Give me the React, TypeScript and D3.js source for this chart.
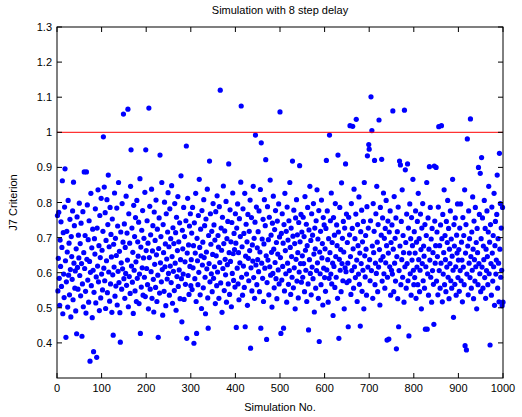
import React from "react";
import * as d3 from "d3";

const xTicks = [0, 100, 200, 300, 400, 500, 600, 700, 800, 900, 1000];
const yTicks = [0.4, 0.5, 0.6, 0.7, 0.8, 0.9, 1.0, 1.1, 1.2, 1.3];
const threshold = 1.0;

const block00 = [0.763,0.548,0.641,0.772,0.584,0.507,0.693,0.618,0.745,0.561,0.672,0.862,0.483,0.714,0.596,0.529,0.787,0.896,0.634,0.416,0.574,0.718,0.659,0.502,0.806,0.593,0.684,0.537,0.752,0.609,0.474,0.703,0.646,0.581,0.776,0.523,0.858,0.627,0.734,0.556,0.605,0.491,0.668,0.426,0.759,0.615,0.553,0.707,0.642,0.798];
const block01 = [0.592,0.683,0.534,0.741,0.626,0.419,0.568,0.774,0.503,0.657,0.887,0.612,0.706,0.547,0.485,0.887,0.638,0.793,0.579,0.694,0.516,0.748,0.632,0.348,0.601,0.826,0.563,0.671,0.472,0.724,0.607,0.375,0.544,0.697,0.653,0.782,0.514,0.588,0.359,0.727,0.619,0.836,0.574,0.677,0.492,0.763,0.643,0.528,0.812,0.596];
const block02 = [0.664,0.551,0.718,0.987,0.613,0.844,0.577,0.771,0.498,0.692,0.634,0.808,0.543,0.737,0.878,0.602,0.674,0.519,0.786,0.568,0.709,0.645,0.487,0.753,0.594,0.422,0.681,0.616,0.827,0.533,0.698,0.562,0.649,0.784,0.508,0.733,0.604,0.857,0.572,0.661,0.486,0.402,0.716,0.628,0.553,0.797,0.611,0.687,1.052,0.583];
const block03 = [0.739,0.527,0.672,0.598,0.818,0.564,0.713,0.636,1.066,0.503,0.768,0.589,0.684,0.541,0.846,0.950,0.619,0.727,0.573,0.658,0.484,0.792,0.607,0.703,0.548,0.757,0.631,0.518,0.806,0.584,0.688,0.647,0.744,0.512,0.596,0.868,0.427,0.673,0.559,0.721,0.614,0.777,0.536,0.642,0.698,0.587,0.829,0.532,0.950,0.663];
const block04 = [0.612,0.748,0.566,0.684,0.497,1.069,0.643,0.789,0.553,0.708,0.603,0.838,0.527,0.662,0.734,0.581,0.488,0.773,0.624,0.692,0.558,0.807,0.651,0.518,0.724,0.593,0.416,0.669,0.756,0.542,0.935,0.628,0.703,0.574,0.857,0.609,0.479,0.737,0.657,0.547,0.801,0.617,0.682,0.506,0.768,0.639,0.582,0.716,0.828,0.598];
const block05 = [0.674,0.536,0.782,0.619,0.697,0.572,0.848,0.646,0.513,0.728,0.604,0.683,0.549,0.797,0.627,0.714,0.493,0.758,0.589,0.663,0.817,0.561,0.688,0.608,0.742,0.526,0.637,0.876,0.583,0.460,0.721,0.668,0.596,0.786,0.524,0.703,0.631,0.567,0.748,0.961,0.413,0.656,0.812,0.592,0.679,0.538,0.733,0.618,0.768,0.563];
const block06 = [0.637,0.713,0.552,0.786,0.614,0.677,0.399,0.742,0.583,0.656,0.826,0.518,0.427,0.698,0.634,0.566,0.763,0.601,0.866,0.672,0.537,0.724,0.648,0.498,0.777,0.622,0.687,0.557,0.808,0.643,0.734,0.587,0.483,0.753,0.659,0.611,0.838,0.528,0.442,0.706,0.626,0.918,0.574,0.768,0.681,0.597,0.718,0.546,0.652,0.797];
const block07 = [0.584,0.736,0.617,0.693,0.512,0.774,0.648,0.563,0.819,0.602,0.706,0.673,0.527,0.788,0.629,1.120,0.571,0.727,0.664,0.487,0.758,0.612,0.847,0.683,0.549,0.719,0.638,0.594,0.803,0.516,0.697,0.623,0.746,0.568,0.910,0.657,0.538,0.779,0.632,0.688,0.503,0.743,0.598,0.827,0.654,0.578,0.712,0.666,0.559,0.768];
const block08 = [0.684,0.444,0.727,0.613,0.796,0.568,0.657,0.523,0.754,0.628,0.703,0.858,1.075,0.587,0.674,0.536,0.782,0.619,0.712,0.558,0.826,0.446,0.647,0.738,0.596,0.688,0.507,0.766,0.641,0.577,0.718,0.663,0.807,0.385,0.614,0.757,0.548,0.679,0.633,0.846,0.586,0.698,0.527,0.744,0.992,0.622,0.787,0.566,0.671,0.637];
const block09 = [0.717,0.603,0.776,0.546,0.659,0.837,0.442,0.970,0.627,0.696,0.584,0.752,0.518,0.682,0.808,0.613,0.734,0.922,0.648,0.410,0.572,0.788,0.636,0.694,0.537,0.758,0.617,0.864,0.593,0.707,0.658,0.502,0.741,0.598,0.818,0.667,0.557,0.723,0.629,0.777,0.583,0.686,0.526,0.747,0.653,0.608,0.796,0.568,0.702,1.058];
const block10 = [0.643,0.427,0.712,0.579,0.768,0.618,0.684,0.442,0.737,0.548,0.826,0.663,0.597,0.718,0.516,0.787,0.627,0.693,0.567,0.748,0.606,0.857,0.672,0.538,0.727,0.646,0.587,0.918,0.704,0.557,0.778,0.614,0.683,0.497,0.756,0.638,0.808,0.576,0.708,0.657,0.528,0.743,0.602,0.905,0.688,0.626,0.766,0.573,0.716,0.648];
const block11 = [0.587,0.758,0.626,0.703,0.546,0.817,0.664,0.607,0.738,0.518,0.677,0.786,0.568,0.437,0.722,0.637,0.846,0.598,0.692,0.537,0.768,0.616,0.707,0.583,0.797,0.653,0.488,0.727,0.668,0.556,0.748,0.606,0.836,0.628,0.696,0.527,0.777,0.404,0.659,0.597,0.718,0.566,0.807,0.642,0.683,0.508,0.757,0.613,0.736,0.586];
const block12 = [0.668,0.547,0.726,0.920,0.608,0.776,0.637,0.516,0.697,0.584,0.992,0.657,0.748,0.596,0.827,0.568,0.686,0.627,0.478,0.757,0.618,0.707,0.558,0.797,0.646,0.587,0.736,0.677,0.527,0.935,0.716,0.413,0.638,0.786,0.607,0.666,0.546,0.856,0.626,0.698,0.577,0.746,0.659,0.497,0.727,0.614,0.910,0.603,0.767,0.572];
const block13 = [0.686,0.627,0.446,0.758,0.577,0.708,1.019,0.646,0.538,0.797,0.606,0.726,1.017,0.668,0.556,0.838,0.617,0.697,0.586,0.767,1.037,0.636,0.518,0.737,0.677,0.596,0.816,0.567,0.656,0.448,0.717,0.626,0.778,0.547,0.688,0.607,0.746,0.497,0.857,0.648,0.588,0.706,0.667,0.536,0.788,0.933,0.616,0.727,0.965,0.952];
const block14 = [0.637,0.577,0.748,1.101,0.606,1.005,0.676,0.527,0.797,0.657,0.718,0.920,0.566,0.627,0.768,0.598,0.846,0.687,0.546,0.737,0.616,1.035,0.666,0.508,0.786,0.636,0.707,0.923,0.576,0.756,0.646,0.827,0.597,0.698,0.556,0.726,0.628,0.806,0.677,0.408,0.587,0.747,0.656,0.411,0.716,0.617,0.776,0.536,0.686,0.607];
const block15 = [0.736,0.596,1.061,0.667,0.546,0.817,0.627,0.698,0.576,0.756,0.383,0.646,0.717,0.526,0.787,0.446,0.606,0.918,0.676,0.907,0.566,0.746,0.637,0.836,0.587,0.706,0.657,0.516,1.063,0.617,0.893,0.686,0.556,0.767,0.626,0.910,0.577,0.727,0.420,0.656,0.796,0.597,0.697,0.536,0.757,0.636,0.677,0.866,0.607,0.566];
const block16 = [0.717,0.586,0.656,0.776,0.527,0.687,0.616,0.746,0.566,0.826,0.637,0.697,0.546,0.607,0.767,0.666,0.497,0.727,0.626,0.797,0.577,0.676,0.647,0.556,0.737,0.439,0.617,0.706,0.857,0.439,0.597,0.756,0.536,0.667,0.902,0.636,0.786,0.587,0.696,0.516,0.726,0.606,0.657,0.567,0.453,0.904,0.747,0.627,0.677,0.900];
const block17 = [0.576,0.716,0.646,0.537,0.787,1.016,0.606,0.677,0.556,0.736,0.627,1.019,0.697,0.517,0.766,0.596,0.657,0.836,0.566,0.706,0.637,0.546,0.746,0.616,0.686,0.806,0.587,0.726,0.526,0.667,0.626,0.776,0.577,0.696,0.556,0.647,0.866,0.607,0.473,0.737,0.676,0.567,0.756,0.617,0.536,0.707,0.656,0.796,0.586,0.636];
const block18 = [0.666,0.547,0.727,0.606,0.796,0.577,0.687,0.636,0.517,0.757,0.616,0.706,0.566,0.836,0.392,0.656,0.737,0.380,0.596,0.981,0.676,0.537,0.776,0.627,0.697,0.586,1.038,0.646,0.556,0.716,0.607,0.816,0.667,0.526,0.747,0.637,0.576,0.786,0.617,0.686,0.497,0.726,0.657,0.566,0.900,0.626,0.766,0.597,0.883,0.546];
const block19 = [0.697,0.928,0.616,0.756,0.556,0.676,0.637,0.806,0.586,0.726,0.527,0.667,0.606,0.776,0.646,0.566,0.716,0.846,0.597,0.687,0.394,0.737,0.626,0.536,0.787,0.656,0.576,0.706,0.617,0.826,0.507,0.677,0.746,0.596,0.636,0.766,0.878,0.556,0.697,0.627,0.517,0.940,0.667,0.797,0.587,0.727,0.607,0.506,0.786,0.516];

const criterion = [
  ...block00, ...block01, ...block02, ...block03, ...block04,
  ...block05, ...block06, ...block07, ...block08, ...block09,
  ...block10, ...block11, ...block12, ...block13, ...block14,
  ...block15, ...block16, ...block17, ...block18, ...block19,
];

const W = 522;
const H = 417;
const M = { left: 57, right: 19, top: 27, bottom: 39 };

export default function App() {
  const x = d3.scaleLinear().domain([0, 1000]).range([M.left, W - M.right]);
  const y = d3.scaleLinear().domain([0.3, 1.3]).range([H - M.bottom, M.top]);
  const font = "'Liberation Sans', Arial, Helvetica, sans-serif";
  const tl = 5;
  const x0 = M.left, x1 = W - M.right, y0 = H - M.bottom, y1 = M.top;
  const fmt = (v: number) => String(Math.round(v * 10) / 10);
  return (
    <svg width={W} height={H} style={{ position: "absolute", left: 0, top: 0, background: "#fff" }} fontFamily={font}>
      <rect x={0} y={0} width={W} height={H} fill="#fff" />
      <text x={(x0 + x1) / 2} y={14} textAnchor="middle" fontSize={11}>Simulation with 8 step delay</text>
      {criterion.map((v, i) => (
        <circle key={i} cx={x(i + 1)} cy={y(v)} r={2.6} fill="#0000ff" />
      ))}
      <line x1={x0} x2={x1} y1={y(threshold)} y2={y(threshold)} stroke="#ff0000" strokeWidth={1} />
      <rect x={x0} y={y1} width={x1 - x0} height={y0 - y1} fill="none" stroke="#000" strokeWidth={1} />
      {xTicks.map((t) => (
        <g key={"x" + t}>
          <line x1={x(t)} x2={x(t)} y1={y0} y2={y0 - tl} stroke="#000" />
          <line x1={x(t)} x2={x(t)} y1={y1} y2={y1 + tl} stroke="#000" />
          <text x={x(t)} y={y0 + 14} textAnchor="middle" fontSize={11}>{t}</text>
        </g>
      ))}
      {yTicks.map((t) => (
        <g key={"y" + t}>
          <line x1={x0} x2={x0 + tl} y1={y(t)} y2={y(t)} stroke="#000" />
          <line x1={x1} x2={x1 - tl} y1={y(t)} y2={y(t)} stroke="#000" />
          <text x={x0 - 5} y={y(t) + 4} textAnchor="end" fontSize={11}>{fmt(t)}</text>
        </g>
      ))}
      <text x={(x0 + x1) / 2} y={411} textAnchor="middle" fontSize={11}>Simulation No.</text>
      <text transform={`translate(17,${(y0 + y1) / 2}) rotate(-90)`} textAnchor="middle" fontSize={11}>J7 Criterion</text>
    </svg>
  );
}
